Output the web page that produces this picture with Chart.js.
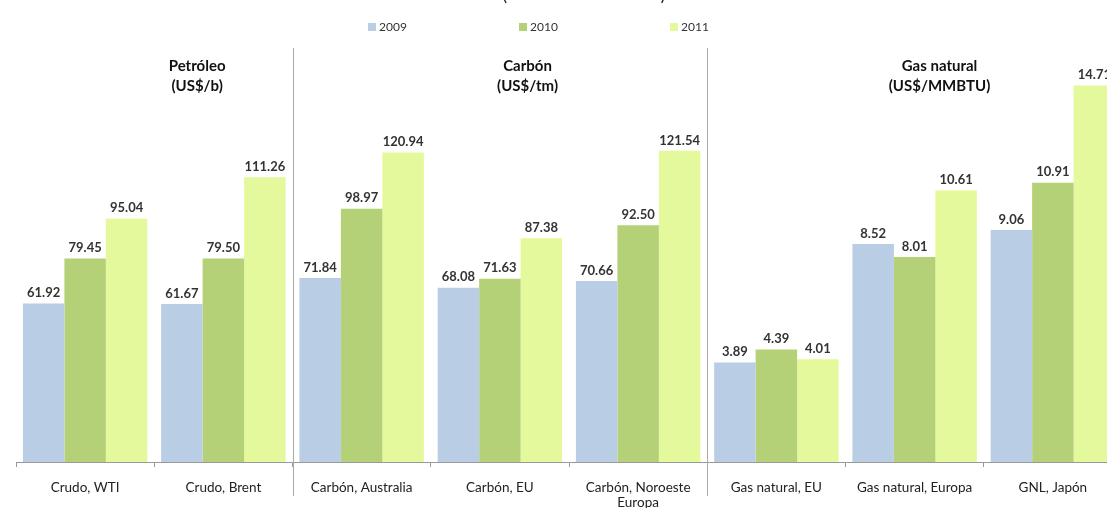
<!DOCTYPE html>
<html>
<head>
<meta charset="utf-8">
<script src="https://cdn.jsdelivr.net/npm/chart.js@4/dist/chart.umd.min.js"></script>
<style>
    body { margin: 0; overflow: hidden; background: #fff; }
    #wrap { position: relative; width: 1130px; height: 508px; }
</style>
</head>
<body>
<div id="wrap"><canvas id="canvas"></canvas></div>
<script>
let categorias = ['Crudo, WTI', 'Crudo, Brent', 'Carbón, Australia', 'Carbón, EU',
    ['Carbón, Noroeste', 'Europa'], 'Gas natural, EU', 'Gas natural, Europa', 'GNL, Japón'];
let anios = ['2009', '2010', '2011'];

// petróleo (US$/b) y carbón (US$/tm)
let petroleoCarbon2009 = [61.92, 61.67, 71.84, 68.08, 70.66, null, null, null];
let petroleoCarbon2010 = [79.45, 79.50, 98.97, 71.63, 92.50, null, null, null];
let petroleoCarbon2011 = [95.04, 111.26, 120.94, 87.38, 121.54, null, null, null];

// gas natural (US$/MMBTU), eje propio
let gas2009 = [null, null, null, null, null, 3.89, 8.52, 9.06];
let gas2010 = [null, null, null, null, null, 4.39, 8.01, 10.91];
let gas2011 = [null, null, null, null, null, 4.01, 10.61, 14.71];

let grupos = [['Petróleo', '(US$/b)'], ['Carbón', '(US$/tm)'], ['Gas natural', '(US$/MMBTU)']];

let colores = ['#b9cde4', '#b5d177', '#e3f99c'];
let fuente = 'Lato, "Open Sans", sans-serif';

let serie = (label, data, color, eje) => ({
    label: label,
    data: data,
    backgroundColor: color,
    yAxisID: eje,
    skipNull: true,
    categoryPercentage: 0.9,
    barPercentage: 1.0,
});

// etiquetas de valor encima de cada barra
let valores = {
    id: 'valores',
    afterDatasetsDraw(chart) {
        let ctx = chart.ctx;
        ctx.save();
        ctx.font = 'bold 13px ' + fuente;
        ctx.fillStyle = '#333';
        ctx.textAlign = 'center';
        ctx.textBaseline = 'bottom';
        chart.data.datasets.forEach((ds, i) => {
            chart.getDatasetMeta(i).data.forEach((bar, j) => {
                if (ds.data[j] === null) return;
                ctx.fillText(ds.data[j].toFixed(2), bar.x, bar.y - 4);
            });
        });
        ctx.restore();
    }
};

// leyenda, separadores y títulos de grupo
let adornos = {
    id: 'adornos',
    afterDraw(chart, args, opts) {
        let ctx = chart.ctx;
        let x = chart.scales.x;
        let ancho = (x.right - x.left) / categorias.length;
        ctx.save();

        ctx.strokeStyle = '#aaa';
        ctx.lineWidth = 1;
        opts.cortes.forEach(c => {
            let px = Math.round(x.left + c * ancho) + 0.5;
            ctx.beginPath();
            ctx.moveTo(px, 48);
            ctx.lineTo(px, 496);
            ctx.stroke();
        });

        ctx.fillStyle = '#111';
        ctx.textAlign = 'center';
        ctx.textBaseline = 'middle';
        ctx.font = 'bold 15px ' + fuente;
        grupos.forEach((g, i) => {
            let px = x.left + opts.posGrupos[i] * ancho;
            ctx.fillText(g[0], px, 66);
            ctx.fillText(g[1], px, 86);
        });

        ctx.font = '16px ' + fuente;
        ctx.textBaseline = 'alphabetic';
        ctx.fillText('(', 505, 1);
        ctx.fillText(')', 663, 1);

        ctx.font = '12px ' + fuente;
        ctx.textAlign = 'left';
        ctx.textBaseline = 'middle';
        anios.forEach((a, i) => {
            let lx = opts.leyendaX + i * opts.leyendaPaso;
            ctx.fillStyle = colores[i];
            ctx.fillRect(lx, 23, 8, 8);
            ctx.fillStyle = '#333';
            ctx.fillText(a, lx + 11, 27);
        });
        ctx.restore();
    }
};

let ctx = document.getElementById('canvas').getContext('2d');

let grafico = new Chart(ctx, {
    type: 'bar',
    data: {
        labels: categorias,
        datasets: [
            serie(anios[0], petroleoCarbon2009, colores[0], 'y'),
            serie(anios[1], petroleoCarbon2010, colores[1], 'y'),
            serie(anios[2], petroleoCarbon2011, colores[2], 'y'),
            serie(anios[0], gas2009, colores[0], 'y2'),
            serie(anios[1], gas2010, colores[1], 'y2'),
            serie(anios[2], gas2011, colores[2], 'y2'),
        ],
    },
    options: {
        responsive: true,
        maintainAspectRatio: false,
        animation: false,
        layout: { padding: { top: 78, left: 16, right: 8, bottom: 0 } },
        plugins: {
            legend: { display: false },
            tooltip: { enabled: false },
            adornos: {
                cortes: [2, 5],
                posGrupos: [1.31, 3.7, 6.68],
                leyendaX: 368,
                leyendaPaso: 151,
            },
        },
        scales: {
            x: {
                grid: { offset: true, drawOnChartArea: false, tickLength: 5, color: '#999' },
                border: { color: '#999' },
                ticks: {
                    autoSkip: false,
                    maxRotation: 0,
                    padding: 13,
                    color: '#222',
                    font: { family: fuente, size: 13.5, lineHeight: 1.1 },
                },
                afterFit: (scale) => { scale.height = 46; },
            },
            y: { display: false, min: 0, max: 150 },
            y2: { display: false, min: 0, max: 15 },
        },
    },
    plugins: [valores, adornos],
});
</script>
</body>
</html>
